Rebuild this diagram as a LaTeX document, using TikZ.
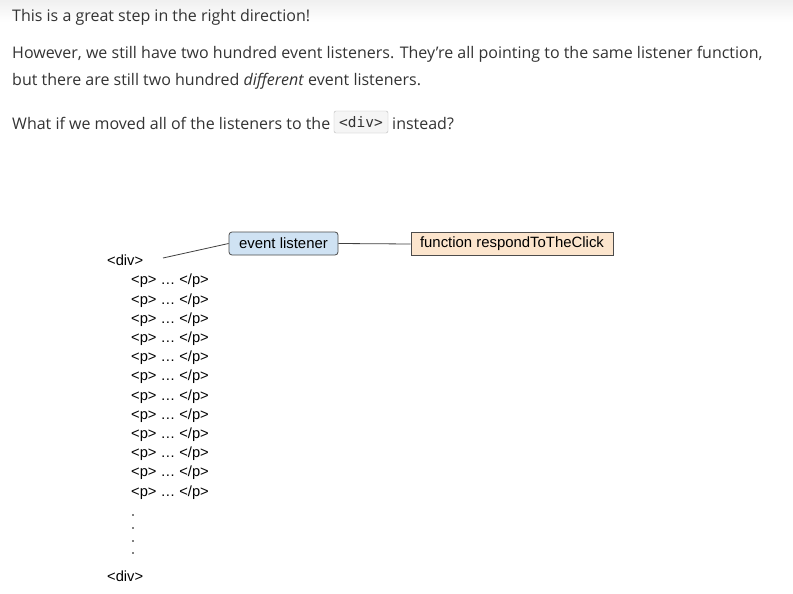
\documentclass[tikz,border=0pt]{standalone}
\usepackage{fontspec}
\setmainfont{Open Sans}
\newfontfamily\diafont{Liberation Sans}
\newfontfamily\codefont{DejaVu Sans Mono}
\definecolor{txt}{HTML}{333333}
\definecolor{bluefill}{HTML}{CFE2F3}
\definecolor{orangefill}{HTML}{FCE5CD}
\definecolor{codebg}{HTML}{F5F5F5}
\definecolor{codeborder}{HTML}{BBBBBB}
\begin{document}
\begin{tikzpicture}[x=1pt,y=-1pt,
  para/.style={anchor=west,inner sep=0pt,text=txt,font=\fontsize{16}{18}\selectfont},
  dia/.style={anchor=west,inner sep=0pt,text=black,font=\diafont\fontsize{14.7}{17}\selectfont},
  boxbase/.style={draw=black!70,line width=0.8pt,minimum height=23pt,inner xsep=0pt,font=\diafont\fontsize{14.9}{17}\selectfont},
  connector/.style={draw=black!75,line width=0.8pt}]
\useasboundingbox (0,0) rectangle (793,594);
\fill[white] (0,0) rectangle (793,594);
\shade[top color=black!6,bottom color=white] (0,0) rectangle (793,22);
% paragraph text
\node[para] (t1) at (12,17) {This is a great step in the right direction!};
\node[para] (t2) at (12,54) {However, we still have two hundred event listeners. They're all pointing to the same listener function,};
\node[para] (t3) at (12,81) {but there are still two hundred \textit{different} event listeners.};
\node[para] (t4a) at (12,123.5) {What if we moved all of the listeners to the};
\node[draw=codeborder,fill=codebg,rounded corners=2pt,inner sep=0pt,minimum width=54pt,minimum height=22pt,font=\codefont\fontsize{14.5}{15}\selectfont,text=txt] (code) at (361,122) {<div>};
\node[para] (t4b) at (392,123.5) {instead?};
% diagram
\node[dia] (div1) at (107,260.5) {<div>};
\node[boxbase,rounded corners=3pt,fill=bluefill,minimum width=109pt] (ev) at (283.5,243.5) {event listener};
\node[boxbase,fill=orangefill,minimum width=202pt] (fn) at (512,244) {function respondToTheClick};
\coordinate (dstart) at (163,258);
\draw[connector] (dstart) -- (ev.west);
\draw[connector] (ev.east) -- (fn.west);
\foreach \i in {0,...,11} {
  \node[dia] (p\i) at (131,{281+19.2*\i}) {<p> \dots{} </p>};
}
\foreach \j/\y in {1/515,2/528,3/541,4/553} {
  \fill[black] (133,\y) circle (0.9pt);
}
\node[dia] (div2) at (107,576) {<div>};
\end{tikzpicture}
\end{document}
